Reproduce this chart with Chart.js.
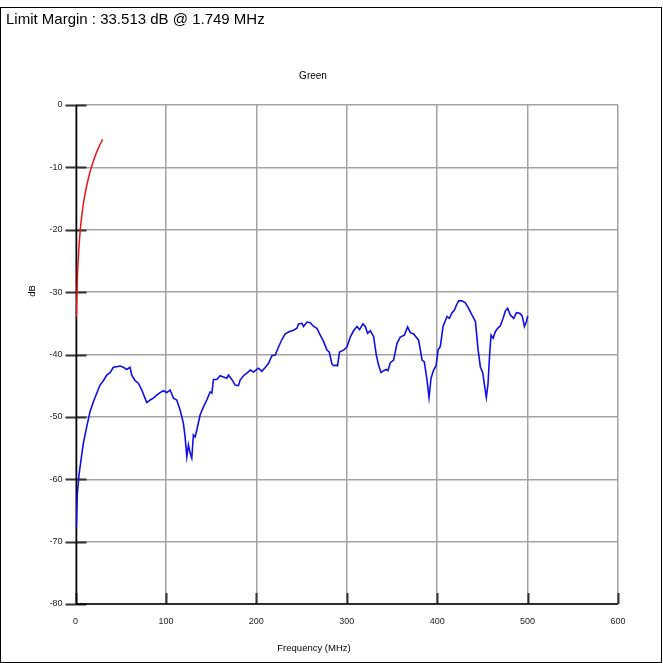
<!DOCTYPE html>
<html>
<head>
<meta charset="utf-8">
<script src="https://cdn.jsdelivr.net/npm/chart.js@4"></script>
<style>
  html, body { margin: 0; padding: 0; background: #fff; }
  #wrap { width: 663px; height: 663px; position: relative; }
</style>
</head>
<body>
<div id="wrap"><canvas id="chart" width="663" height="663"></canvas></div>
<script>
// Values
const headerText = 'Limit Margin : 33.513 dB @ 1.749 MHz';
const chartTitle = 'Green';
const xTitle = 'Frequency (MHz)';
const yTitle = 'dB';

const xTicks = [0, 100, 200, 300, 400, 500, 600];
const yTicks = [0, -10, -20, -30, -40, -50, -60, -70, -80];

// Red limit line
const limitFreq = [1, 2, 3, 5, 7, 10, 15, 20, 25, 30];
const limitDb = [-34, -28.2, -24.8, -20.5, -17.7, -14.7, -11.3, -8.9, -7.0, -5.5];

// Blue measured trace
const measFreq = [
  1.0, 2, 3.9, 6.1, 8.7, 12.4, 16, 19.7, 23.5, 27.1, 30.8, 34.5, 38.2, 41.9, 45.6, 49.3,
  52.9, 56.7, 60.3, 62.2, 65.9, 69.5, 73.3, 76.9, 78.8, 82.5, 86.1, 89.9, 93.5, 97.2,
  101, 104.6, 108.3, 112, 115.7, 119.3, 121.2, 123.1, 124.9, 126.8, 128.6, 130.4, 132.3,
  134.2, 137.8, 141.5, 145.2, 148.9, 150.8, 152.6, 156.3, 160, 163.6, 167.4, 169.2, 172.9,
  176.6, 180.2, 182.1, 185.8, 189.5, 193.2, 196.8, 202.4, 206.1, 209.8, 213.5, 217.2,
  220.9, 224.5, 228.3, 231.9, 235.6, 241.1, 244.9, 246.7, 250.4, 252.2, 256, 259.6,
  263.3, 267, 270.7, 274.3, 278.1, 280.6, 283.6, 285.4, 288.4, 289.8, 292, 296.5, 300.2,
  303.9, 307.5, 311.3, 314.2, 317.9, 320.5, 323, 326, 329.7, 332.7, 335.2, 337.9, 340.8,
  343.7, 345.6, 348.2, 351.8, 355.6, 359.2, 363.7, 367.3, 370.3, 374, 379.5, 383.3,
  385.8, 388.8, 391, 393.2, 396.1, 398.8, 401, 403.5, 406.5, 410.9, 413.5, 416.5, 419,
  421.2, 423.8, 427.5, 431.2, 434.8, 438.6, 442.3, 445.3, 447.8, 450.4, 452.6, 454.4,
  456.3, 458.1, 459.6, 461.9, 464.4, 466.9, 469.9, 472.9, 475.5, 478, 481, 484.7, 487.7,
  491.3, 494, 496.5, 498.7, 500.2
];
const measDb = [
  -67.7, -62.3, -59.3, -56.9, -54.2, -51.6, -49.2, -47.6, -46.2, -44.9, -44.2, -43.3, -42.9, -42.05, -41.95, -41.85,
  -42.05, -42.4, -42.05, -43.3, -44.2, -44.6, -45.7, -47.0, -47.7, -47.3, -47.0, -46.5, -46.1, -45.8,
  -46.1, -45.7, -47.0, -47.3, -48.9, -51.0, -53.2, -56.4, -54.5, -55.8, -56.6, -52.9, -53.2,
  -52.1, -49.7, -48.4, -47.3, -46.0, -46.2, -44.0, -44.0, -43.4, -43.6, -43.8, -43.3, -44.0,
  -44.9, -45.0, -44.1, -43.4, -43.0, -42.5, -42.8, -42.2, -42.7, -42.1, -41.4, -40.2,
  -40.1, -38.8, -37.6, -36.7, -36.4, -36.1, -35.8, -35.1, -35.0, -35.5, -34.8, -34.9,
  -35.5, -35.8, -36.9, -37.9, -39.3, -39.6, -41.5, -41.8, -41.7, -41.8, -39.6, -39.3, -38.8,
  -37.2, -36.2, -35.5, -36.0, -35.1, -35.5, -36.6, -36.2, -37.1, -40.1, -41.7, -42.9, -42.6,
  -42.4, -42.6, -41.3, -40.9, -38.2, -37.2, -36.9, -35.6, -36.5, -36.7, -37.7, -40.9,
  -41.2, -44.1, -46.9, -43.8, -42.5, -41.8, -39.3, -38.7, -35.5, -33.9, -34.2, -33.3, -32.9,
  -32.1, -31.4, -31.4, -31.7, -32.6, -33.7, -34.7, -39.3, -42.0, -42.9, -45.2, -46.9,
  -44.6, -39.8, -36.9, -37.4, -36.3, -35.8, -35.4, -34.2, -33.0, -32.6, -33.7, -34.2, -33.3,
  -33.4, -33.8, -35.5, -34.7, -33.8
];

const FONT = '"Liberation Sans", Arial, sans-serif';

// frame, axis lines and short dark tick marks (under the traces), then texts
const decorPlugin = {
  id: 'decor',
  beforeDatasetsDraw(chart) {
    const ctx = chart.ctx;
    const xs = chart.scales.x;
    const ys = chart.scales.y;
    const area = chart.chartArea;
    ctx.save();

    ctx.strokeStyle = '#000';
    ctx.lineWidth = 1;
    ctx.strokeRect(0.5, 7.5, 661, 655);

    // dark tick marks
    ctx.strokeStyle = '#333';
    ctx.lineWidth = 2;
    ctx.beginPath();
    yTicks.forEach(v => {
      const py = Math.round(ys.getPixelForValue(v)) + 0.5;
      ctx.moveTo(area.left - 10, py);
      ctx.lineTo(area.left + 11, py);
    });
    xTicks.forEach(v => {
      const px = Math.round(xs.getPixelForValue(v)) + 0.5;
      ctx.moveTo(px, area.bottom);
      ctx.lineTo(px, area.bottom - 11);
    });
    ctx.stroke();

    // axis lines
    ctx.strokeStyle = '#000';
    ctx.lineWidth = 1.5;
    ctx.beginPath();
    ctx.moveTo(Math.round(area.left) + 0.5, area.top);
    ctx.lineTo(Math.round(area.left) + 0.5, area.bottom);
    ctx.lineTo(area.right, area.bottom);
    ctx.stroke();
    ctx.restore();
  },
  afterDraw(chart) {
    const ctx = chart.ctx;
    ctx.save();
    ctx.fillStyle = '#000';
    ctx.textBaseline = 'middle';
    ctx.textAlign = 'left';
    ctx.font = '15px ' + FONT;
    ctx.fillText(headerText, 6, 20);

    ctx.textAlign = 'center';
    ctx.font = '10px ' + FONT;
    ctx.fillText(chartTitle, 313, 76);
    ctx.font = '9.5px ' + FONT;
    ctx.fillText(xTitle, 314, 648);

    ctx.translate(32, 291);
    ctx.rotate(-Math.PI / 2);
    ctx.font = '9.5px ' + FONT;
    ctx.fillText(yTitle, 0, 0);
    ctx.restore();
  }
};

const toPoints = (xs, ys) => xs.map((x, i) => ({ x: x, y: ys[i] }));

new Chart(document.getElementById('chart'), {
  type: 'scatter',
  data: {
    datasets: [
      {
        label: 'Limit',
        data: toPoints(limitFreq, limitDb),
        showLine: true,
        borderColor: '#e8161b',
        borderWidth: 1.5,
        pointRadius: 0,
        tension: 0.3
      },
      {
        label: 'Green',
        data: toPoints(measFreq, measDb),
        showLine: true,
        borderColor: '#1010e0',
        borderWidth: 1.6,
        pointRadius: 0,
        tension: 0
      }
    ]
  },
  options: {
    responsive: false,
    animation: false,
    layout: { padding: { top: 105, right: 45, left: 0, bottom: 0 } },
    plugins: {
      legend: { display: false },
      tooltip: { enabled: false }
    },
    scales: {
      x: {
        type: 'linear',
        min: 0,
        max: 600,
        afterFit(scale) { scale.height = 59; },
        afterBuildTicks(scale) { scale.ticks = xTicks.map(v => ({ value: v })); },
        grid: { color: '#a3a3a3', lineWidth: 1.5, drawTicks: false },
        border: { display: false },
        ticks: {
          color: '#222',
          font: { family: FONT, size: 9 },
          padding: 12,
          maxRotation: 0
        }
      },
      y: {
        type: 'linear',
        min: -80,
        max: 0,
        afterFit(scale) { scale.width = 75.5; },
        afterBuildTicks(scale) { scale.ticks = yTicks.map(v => ({ value: v })); },
        grid: { color: '#a3a3a3', lineWidth: 1.5, drawTicks: false },
        border: { display: false },
        ticks: {
          color: '#222',
          font: { family: FONT, size: 9 },
          padding: 13
        }
      }
    }
  },
  plugins: [decorPlugin]
});
</script>
</body>
</html>
